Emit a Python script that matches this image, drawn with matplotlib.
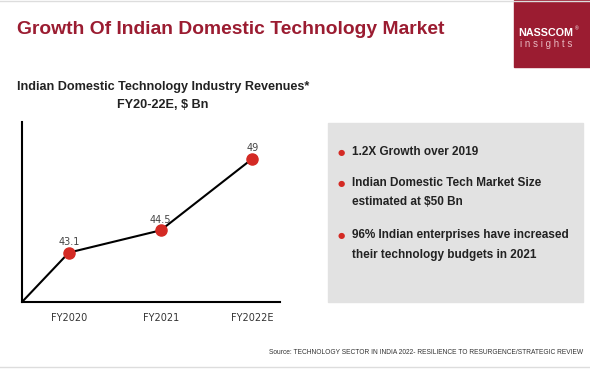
import matplotlib
matplotlib.use("Agg")
import matplotlib.pyplot as plt
from matplotlib.patches import Rectangle

# data
years = ["FY2020", "FY2021", "FY2022E"]
revenues = [43.1, 44.5, 49]
value_labels = ["43.1", "44.5", "49"]
bullets = ["1.2X Growth over 2019",
           "Indian Domestic Tech Market Size\nestimated at $50 Bn",
           "96% Indian enterprises have increased\ntheir technology budgets in 2021"]

MAROON = "#9b1c31"
DOT = "#d42a24"
DARK = "#222222"
FONT = "Liberation Sans"

fig = plt.figure(figsize=(5.9, 3.7), dpi=100)
W, H = 590.0, 370.0


def fx(px):
    return px / W


def fy(py):
    return 1 - py / H


def fit_width(t, target_px):
    # shrink/grow font so the text spans target_px pixels
    r = fig.canvas.get_renderer()
    w = t.get_window_extent(renderer=r).width
    t.set_fontsize(t.get_fontsize() * target_px / w)
    return t.get_fontsize()


# header
title = fig.text(fx(17), fy(30), "Growth Of Indian Domestic Technology Market",
                 color=MAROON, fontsize=15, fontweight="bold", family=FONT,
                 va="center", ha="left")
fit_width(title, 428)
fig.patches.append(Rectangle((fx(514), fy(67)), fx(76), 67 / H,
                             transform=fig.transFigure, color=MAROON, zorder=0))
logo = fig.text(fx(546), fy(33), "NASSCOM", color="white", fontsize=7.5,
                fontweight="bold", family=FONT, ha="center", va="center")
fit_width(logo, 55)
fig.text(fx(575), fy(29), "®", color="white", fontsize=3.5, family=FONT,
         ha="left", va="center")
ins = fig.text(fx(546), fy(44), "i n s i g h t s", color="#e8b8c0", fontsize=5,
               family=FONT, ha="center", va="center")
fit_width(ins, 54)
fig.lines.append(plt.Line2D([0, 1], [fy(1), fy(1)], transform=fig.transFigure,
                            color="#dddddd", lw=1))
fig.lines.append(plt.Line2D([0, 1], [fy(367), fy(367)], transform=fig.transFigure,
                            color="#dddddd", lw=1))

# chart subtitle
sub1 = fig.text(fx(163), fy(87), "Indian Domestic Technology Industry Revenues*",
                color=DARK, fontsize=10, fontweight="bold", family=FONT,
                ha="center", va="center")
sub_fs = fit_width(sub1, 291)
fig.text(fx(163), fy(105), "FY20-22E, $ Bn", color=DARK, fontsize=sub_fs,
         fontweight="bold", family=FONT, ha="center", va="center")

# line chart
ax = fig.add_axes([fx(22), fy(302), fx(258), 180 / H])
x = list(range(len(years)))
xmin, xmax = -0.51, 2.3
ymin, ymax = 40.0, 51.3
ax.plot([xmin] + x, [ymin] + revenues, color="black", lw=1.5, zorder=2)
ax.plot(x, revenues, "o", color=DOT, markersize=8, zorder=3)
for xi, v, lab in zip(x, revenues, value_labels):
    ax.annotate(lab, (xi, v), xytext=(0, 4), textcoords="offset points",
                ha="center", va="bottom", fontsize=7, color="#444444")
ax.set_xlim(xmin, xmax)
ax.set_ylim(ymin, ymax)
ax.set_xticks(x)
ax.set_xticklabels(years, fontsize=7, color="#333333")
ax.tick_params(axis="x", length=0, pad=8)
ax.set_yticks([])
for s in ["top", "right"]:
    ax.spines[s].set_visible(False)
for s in ["left", "bottom"]:
    ax.spines[s].set_linewidth(1.5)
ax.patch.set_alpha(0)

# grey info box
fig.patches.append(Rectangle((fx(328), fy(302)), fx(255), 179 / H,
                             transform=fig.transFigure, color="#e2e2e2", zorder=0))
probe = fig.text(0, 0, "96% Indian enterprises have increased", fontsize=10,
                 fontweight="bold", family=FONT)
bullet_fs = fit_width(probe, 217)
probe.remove()
bullet_y = [152, 192.5, 245]
for by, txt in zip(bullet_y, bullets):
    nlines = txt.count("\n") + 1
    top = by - 9.3 * (nlines - 1)
    fig.text(fx(341), fy(top), "\u25CF", color=DOT, fontsize=6, ha="center", va="center")
    fig.text(fx(352), fy(by), txt, color=DARK, fontsize=bullet_fs, fontweight="bold",
             family=FONT, ha="left", va="center", linespacing=1.8)

# source
fig.text(fx(583), fy(353),
         "Source: TECHNOLOGY SECTOR IN INDIA 2022- RESILIENCE TO RESURGENCE/STRATEGIC REVIEW",
         fontsize=4.8, color="#333333", ha="right", va="center", family=FONT)

fig.savefig("out.png", dpi=100)
